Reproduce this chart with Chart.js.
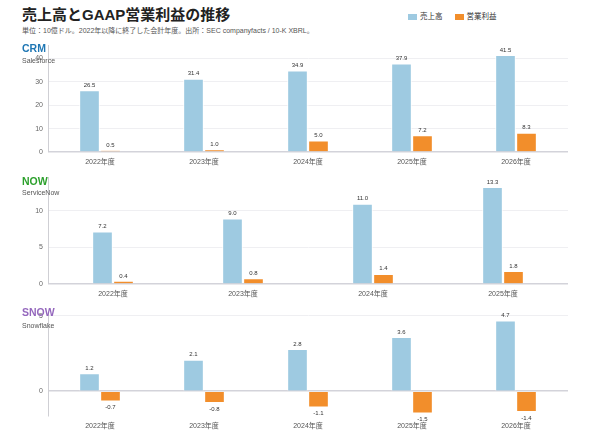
<!DOCTYPE html>
<html lang="ja">
<head>
<meta charset="utf-8">
<script src="https://cdn.jsdelivr.net/npm/chart.js@4.4.1/dist/chart.umd.min.js"></script>
<style>
  body { margin: 0; width: 590px; height: 439px; background: #fff; position: relative; overflow: hidden;
         font-family: "Liberation Sans", "Noto Sans CJK JP", sans-serif; }
  .abs { position: absolute; white-space: nowrap; }
  .title { left: 22px; top: 6px; font-size: 15px; line-height: 18px; font-weight: bold; color: #222; }
  .sub { left: 22px; top: 26px; font-size: 7px; line-height: 10px; color: #555; }
  .legend { top: 12px; left: 408px; font-size: 7.5px; line-height: 10px; color: #333; display: flex; gap: 12px; }
  .legend span.box { display: inline-block; width: 9px; height: 6px; margin-right: 3px; vertical-align: -0.5px; }
  .tk { font-size: 10.5px; line-height: 12px; font-weight: bold; z-index: 2; left: 22px; }
  .nm { font-size: 7px; line-height: 10px; color: #555; z-index: 2; left: 22px; }
  canvas { position: absolute; left: 0; }
</style>
</head>
<body>
<div class="abs title">売上高とGAAP営業利益の推移</div>
<div class="abs sub">単位：10億ドル。2022年以降に終了した会計年度。出所：SEC companyfacts / 10-K XBRL。</div>
<div class="abs legend" id="legend"></div>

<canvas id="crm" width="590" height="136" style="top:36px"></canvas>
<canvas id="now" width="590" height="136" style="top:168px"></canvas>
<canvas id="snow" width="590" height="132" style="top:304px"></canvas>

<div class="abs tk" style="top:42px;color:#1f77b4">CRM</div>
<div class="abs nm" style="top:56px">Salesforce</div>
<div class="abs tk" style="top:175px;color:#2ca02c">NOW</div>
<div class="abs nm" style="top:188px">ServiceNow</div>
<div class="abs tk" style="top:306px;color:#9467bd">SNOW</div>
<div class="abs nm" style="top:321px">Snowflake</div>

<script>
const FONT = '"Liberation Sans", "Noto Sans CJK JP", sans-serif';

const seriesNames = ['売上高', '営業利益'];
const seriesColors = ['#9ecae1', '#f28e2b'];

const years5 = ['2022年度', '2023年度', '2024年度', '2025年度', '2026年度'];
const years4 = ['2022年度', '2023年度', '2024年度', '2025年度'];

const crmRevenue = [26.5, 31.4, 34.9, 37.9, 41.5];
const crmOpIncome = [0.5, 1.0, 5.0, 7.2, 8.3];
const crmTicks = [0, 10, 20, 30, 40];

const nowRevenue = [7.2, 9.0, 11.0, 13.3];
const nowOpIncome = [0.4, 0.8, 1.4, 1.8];
const nowTicks = [0, 5, 10];

const snowRevenue = [1.2, 2.1, 2.8, 3.6, 4.7];
const snowOpIncome = [-0.7, -0.8, -1.1, -1.5, -1.4];
const snowTicks = [0, 5];

// legend
const legend = document.getElementById('legend');
seriesNames.forEach((name, i) => {
  const item = document.createElement('div');
  item.innerHTML = '<span class="box" style="background:' + seriesColors[i] + '"></span>' + name;
  legend.appendChild(item);
});

// numbers above / below each bar
const valueLabels = {
  id: 'valueLabels',
  afterDatasetsDraw(chart) {
    const ctx = chart.ctx;
    ctx.save();
    ctx.font = '6px ' + FONT;
    ctx.fillStyle = '#333';
    ctx.textAlign = 'center';
    chart.data.datasets.forEach((ds, i) => {
      chart.getDatasetMeta(i).data.forEach((bar, j) => {
        const v = ds.data[j];
        if (v >= 0) {
          ctx.textBaseline = 'bottom';
          ctx.fillText(v.toFixed(1), bar.x, bar.y - 2);
        } else {
          ctx.textBaseline = 'top';
          ctx.fillText(v.toFixed(1), bar.x, bar.y + 3);
        }
      });
    });
    ctx.restore();
  }
};

function panel(id, labels, revenue, opIncome, ticks) {
  const lo = Math.min(0, ...opIncome);
  const hi = Math.max(...revenue);
  new Chart(document.getElementById(id), {
    type: 'bar',
    data: {
      labels,
      datasets: [revenue, opIncome].map((data, i) => ({
        label: seriesNames[i],
        data,
        backgroundColor: seriesColors[i],
        borderColor: 'rgba(255,255,255,0.55)',
        borderWidth: 1.5,
        barThickness: 21,
      }))
    },
    options: {
      responsive: false,
      animation: false,
      layout: { padding: { top: 6, right: 22, left: 0, bottom: 0 } },
      plugins: { legend: { display: false }, tooltip: { enabled: false } },
      scales: {
        x: {
          grid: { display: false, drawTicks: false },
          border: { display: false },
          ticks: { color: '#555', font: { family: FONT, size: 7 }, padding: 6, maxRotation: 0 },
          afterFit: s => { s.height = 20; }
        },
        y: {
          min: lo * 1.1,
          max: hi * 1.1,
          afterBuildTicks: s => { s.ticks = ticks.map(v => ({ value: v })); },
          grid: {
            drawTicks: false,
            color: c => c.tick && c.tick.value === 0 ? '#d3d3da' : '#efeff2',
            lineWidth: c => c.tick && c.tick.value === 0 ? 1.5 : 1
          },
          border: { display: true, color: '#cfcfd4', width: 1 },
          ticks: { color: '#666', font: { family: FONT, size: 7 }, padding: 5 },
          afterFit: s => { s.width = 48; }
        }
      }
    },
    plugins: [valueLabels]
  });
}

panel('crm', years5, crmRevenue, crmOpIncome, crmTicks);
panel('now', years4, nowRevenue, nowOpIncome, nowTicks);
panel('snow', years5, snowRevenue, snowOpIncome, snowTicks);
</script>
</body>
</html>
